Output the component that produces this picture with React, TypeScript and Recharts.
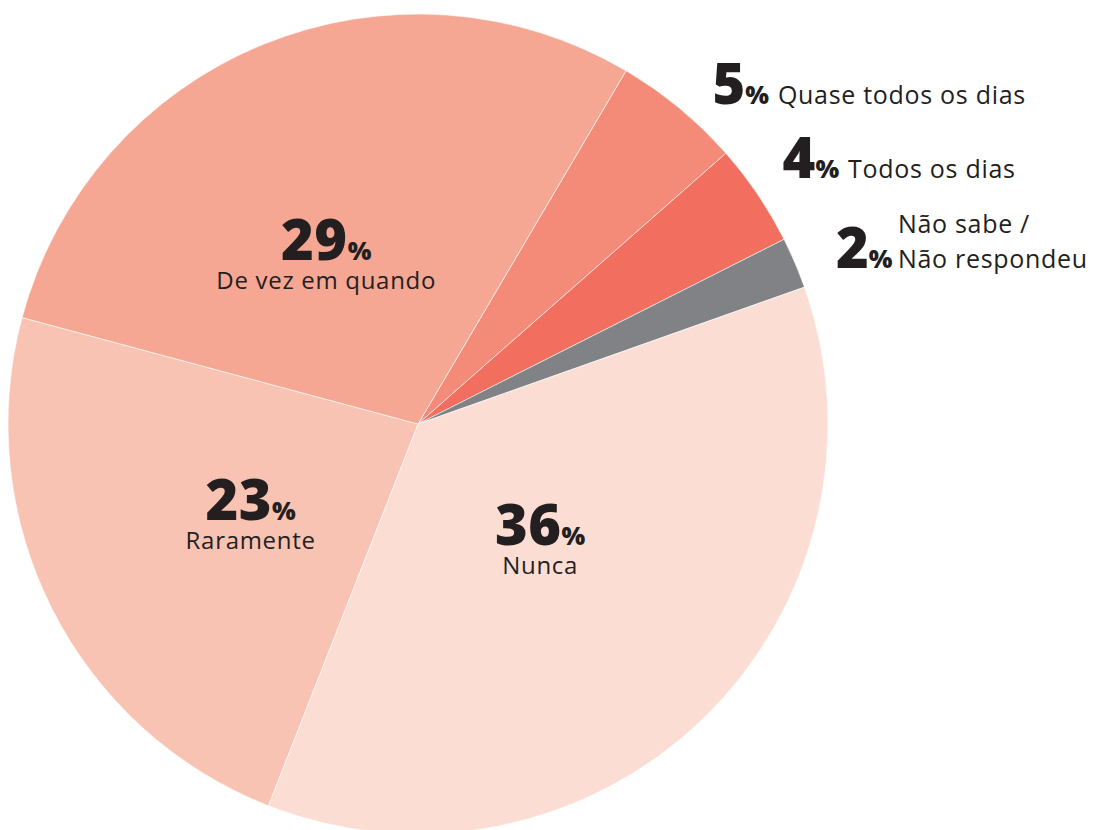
import React from "react";
import { PieChart, Pie, Cell } from "recharts";

const categories = [
  "Quase todos os dias",
  "Todos os dias",
  "Não sabe / Não respondeu",
  "Nunca",
  "Raramente",
  "De vez em quando",
];
const values = [5, 4, 2, 36, 23, 29];
const nameLines = [
  ["Quase todos os dias"],
  ["Todos os dias"],
  ["Não sabe /", "Não respondeu"],
  ["Nunca"],
  ["Raramente"],
  ["De vez em quando"],
];

const COLORS = ["#F38B78", "#F26E5F", "#818285", "#FCDDD4", "#F9C3B3", "#F6A794"];
// label layout: [angle nudge (deg), radius (px), outside?]
const LABEL_LAYOUT: [number, number, boolean][] = [
  [-3, 435, true],
  [0, 440, true],
  [-2.7, 446, true],
  [1.2, 172, false],
  [3.1, 193, false],
  [7.0, 188, false],
];

const data = categories.map((c, i) => ({ name: c, value: values[i] }));

const FONT = "'Open Sans', 'DejaVu Sans', sans-serif";
const INK = "#231F20";
const RAD = Math.PI / 180;

const renderLabel = (props: any) => {
  const { cx, cy, midAngle, index } = props;
  const [dAng, r, outside] = LABEL_LAYOUT[index];
  const a = (midAngle + dAng) * RAD;
  const x = cx + r * Math.cos(a);
  const y = cy - r * Math.sin(a);
  const lines = nameLines[index];
  const v = values[index];
  if (!outside) {
    return (
      <g key={`lbl-${index}`}>
        <text x={x} y={y} textAnchor="middle" fill={INK} fontFamily={FONT}>
          <tspan fontSize={56} fontWeight={800} letterSpacing={0.5}>{v}</tspan>
          <tspan fontSize={25} fontWeight={800}>%</tspan>
        </text>
        <text x={x} y={y + 29} textAnchor="middle" fill={INK} fontFamily={FONT} fontSize={24} letterSpacing={0.7}>
          {lines[0]}
        </text>
      </g>
    );
  }
  if (lines.length > 1) {
    return (
      <g key={`lbl-${index}`}>
        <text x={x} y={y} textAnchor="start" fill={INK} fontFamily={FONT}>
          <tspan fontSize={56} fontWeight={800}>{v}</tspan>
          <tspan fontSize={25} fontWeight={800}>%</tspan>
        </text>
        <text x={x + 62} y={y - 35} textAnchor="start" fill={INK} fontFamily={FONT} fontSize={25} letterSpacing={0.7}>
          {lines[0]}
        </text>
        <text x={x + 62} y={y} textAnchor="start" fill={INK} fontFamily={FONT} fontSize={25} letterSpacing={0.7}>
          {lines[1]}
        </text>
      </g>
    );
  }
  return (
    <g key={`lbl-${index}`}>
      <text x={x} y={y} textAnchor="start" fill={INK} fontFamily={FONT}>
        <tspan fontSize={56} fontWeight={800}>{v}</tspan>
        <tspan fontSize={25} fontWeight={800}>%</tspan>
        <tspan fontSize={25} dx={9} fontWeight={400} letterSpacing={0.7}>{lines[0]}</tspan>
      </text>
    </g>
  );
};

export default function App() {
  return (
    <div style={{ position: "absolute", left: 0, top: 0, width: 1094, height: 830, background: "#fff" }}>
      <PieChart width={1094} height={830} margin={{ top: 0, right: 0, bottom: 0, left: 0 }}>
        <Pie
          data={data}
          dataKey="value"
          nameKey="name"
          cx={418}
          cy={424}
          outerRadius={410}
          startAngle={59.5}
          endAngle={-300.5}
          stroke="#ffffff"
          strokeWidth={0.6}
          label={renderLabel}
          labelLine={false}
          isAnimationActive={false}
        >
          {data.map((d, i) => (
            <Cell key={d.name} fill={COLORS[i]} />
          ))}
        </Pie>
      </PieChart>
    </div>
  );
}
